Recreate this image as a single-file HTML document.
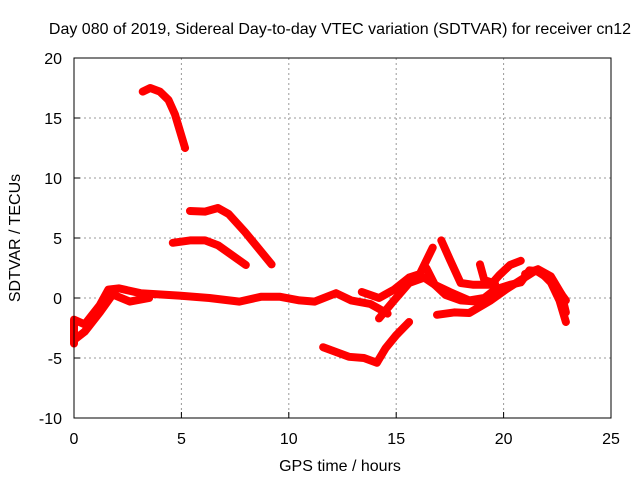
<!DOCTYPE html>
<html><head><meta charset="utf-8"><style>
body{margin:0;background:#fff}
svg text{font-family:"Liberation Sans",sans-serif;font-size:16px;fill:#000}
</style></head><body>
<svg id="chart" width="640" height="480" viewBox="0 0 640 480">
<rect width="640" height="480" fill="#fff"/>
<text x="340" y="34" text-anchor="middle">Day 080 of 2019, Sidereal Day-to-day VTEC variation (SDTVAR) for receiver cn12</text>
<g id="grid"></g>
<g id="series"></g>
<rect x="74" y="58" width="537" height="360" fill="none" stroke="#000" stroke-width="1"/>
<g id="ticks"></g>
<text x="340" y="471" text-anchor="middle">GPS time / hours</text>
<text transform="translate(20,238) rotate(-90)" text-anchor="middle">SDTVAR / TECUs</text>
</svg>
<script>
const xTicks=[0,5,10,15,20,25];
const yTicks=[-10,-5,0,5,10,15,20];
const arcTop=[[3.2,17.2],[3.55,17.5],[4.0,17.2],[4.4,16.5],[4.7,15.3],[5.17,12.5]];
const arcMid=[[5.4,7.25],[6.1,7.2],[6.7,7.5],[7.2,7.0],[7.96,5.5],[9.2,2.8]];
const arcLow=[[4.6,4.6],[5.4,4.8],[6.1,4.8],[6.7,4.4],[8.0,2.75]];
const baseline=[[0,-3.8],[0,-1.8],[0.5,-2.2],[1.2,-0.6],[1.6,0.7],[2.1,0.8],[3.1,0.4],[4.9,0.2],[6.3,0],[7.7,-0.3],[8.7,0.1],[9.6,0.1],[10.5,-0.2],[11.2,-0.3],[12.2,0.4],[12.9,-0.2],[13.8,-0.5],[14.6,-1.3]];
const early=[[0,-3.5],[0.5,-2.8],[1.2,-1.2],[1.8,0.3],[2.6,-0.3],[3.5,0]];
const seg5=[[13.4,0.5],[14.2,0],[14.9,0.7],[15.6,1.7],[16.1,2.0],[16.7,4.2]];
const seg6=[[14.2,-1.7],[14.9,-0.2],[15.6,1.25],[16.3,1.7],[16.8,1.1],[17.5,0.5],[18.4,-0.2],[19.1,0],[19.6,0.7],[20.3,1.1],[20.8,1.3],[21.2,2.3],[21.7,2.2],[22.2,1.3],[22.6,-0.2],[22.9,-2]];
const seg7=[[17.1,4.8],[17.5,3.2],[18.0,1.25],[18.6,1.1],[19.4,1.1],[19.8,1.9],[20.3,2.75],[20.8,3.1]];
const seg8=[[16.9,-1.4],[17.7,-1.2],[18.4,-1.25],[19.4,-0.2],[20.1,0.7],[20.8,1.5],[21.5,2.3],[22.2,1.5],[22.9,-0.2]];
const seg9=[[11.6,-4.1],[12.2,-4.5],[12.8,-4.9],[13.5,-5],[14.1,-5.4],[14.5,-4.2],[15.0,-3.1],[15.6,-2.0]];
const seg10=[[16.4,2.5],[16.8,1.1],[17.3,0.25],[18.0,-0.2],[18.8,-0.3],[19.4,0.25]];
const seg11=[[18.9,2.8],[19.1,1.5],[19.6,1.2]];
const seg12=[[21.0,2.0],[21.6,2.4],[22.2,1.8],[22.7,0.3],[22.9,-1.2]];
const allSeries=[arcTop,arcMid,arcLow,baseline,early,seg5,seg6,seg7,seg8,seg9,seg10,seg11,seg12];
const X=h=>74+h*537/25, Y=v=>298-v*12;
const NS="http://www.w3.org/2000/svg";
const grid=document.getElementById('grid'),ticks=document.getElementById('ticks'),ser=document.getElementById('series');
function mk(t,a){const e=document.createElementNS(NS,t);for(const k in a)e.setAttribute(k,a[k]);return e;}
xTicks.forEach(t=>{
 if(t>0&&t<25){const l=mk('line',{x1:X(t),x2:X(t),y1:58,y2:418,stroke:'#999','stroke-dasharray':'2,3'});
 
 grid.appendChild(l);}
 const tk=mk('line',{x1:X(t),x2:X(t),y1:418,y2:412,stroke:'#000'});
 
 grid.appendChild(tk);
 const tx=mk('text',{x:X(t),y:444,'text-anchor':'middle'});tx.textContent=t;
 
 ticks.appendChild(tx);
});
yTicks.forEach(t=>{
 if(t>-10&&t<20){const l=mk('line',{x1:74,x2:611,y1:Y(t),y2:Y(t),stroke:'#999','stroke-dasharray':'2,3'});
 
 grid.appendChild(l);}
 const tk=mk('line',{x1:74,x2:80,y1:Y(t),y2:Y(t),stroke:'#000'});
 
 grid.appendChild(tk);
 const tx=mk('text',{x:62,y:Y(t)+6,'text-anchor':'end'});tx.textContent=t;
 
 ticks.appendChild(tx);
});
allSeries.forEach(s=>{
 const p=mk('polyline',{points:s.map(d=>X(d[0])+','+Y(d[1])).join(' '),fill:'none',stroke:'#f00','stroke-width':8,'stroke-linejoin':'round','stroke-linecap':'round'});
 
 
 ser.appendChild(p);
});
</script>
</body></html>
